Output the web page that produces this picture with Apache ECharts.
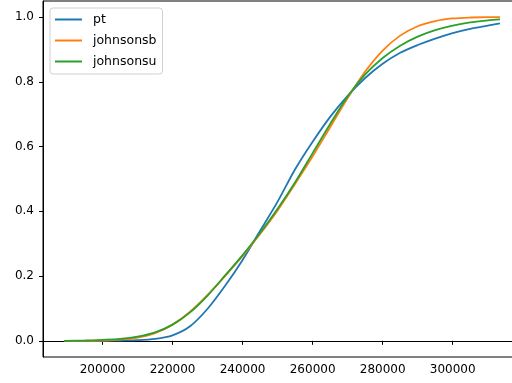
<!DOCTYPE html>
<html>
<head>
<meta charset="utf-8">
<script src="https://cdn.jsdelivr.net/npm/echarts@6/dist/echarts.min.js"></script>
<style>
  html, body { margin: 0; padding: 0; background: #fff; }
  #chartBox { width: 512px; height: 383px; }
</style>
</head>
<body>
<div id="chartBox"></div>
<script>
// x positions and the three CDF curves
var xValues = [189000, 195000, 200000, 205000, 210000, 215000, 220000, 225000, 230000, 235000,
    240000, 245000, 250000, 255000, 260000, 265000, 270000, 275000, 280000, 285000,
    290000, 295000, 300000, 305000, 310000, 313500];
var ptValues = [0.000, 0.000, 0.000, 0.001, 0.002, 0.006, 0.017, 0.045, 0.099, 0.170,
    0.250, 0.340, 0.430, 0.530, 0.615, 0.692, 0.757, 0.812, 0.856, 0.890,
    0.914, 0.934, 0.951, 0.964, 0.974, 0.981];
var johnsonsbValues = [0.000, 0.000, 0.001, 0.004, 0.010, 0.024, 0.050, 0.090, 0.142, 0.200,
    0.262, 0.330, 0.403, 0.485, 0.570, 0.660, 0.750, 0.832, 0.897, 0.943,
    0.972, 0.988, 0.996, 0.999, 1.000, 1.000];
var johnsonsuValues = [0.000, 0.001, 0.003, 0.006, 0.013, 0.026, 0.050, 0.088, 0.140, 0.202,
    0.265, 0.333, 0.408, 0.490, 0.580, 0.670, 0.755, 0.823, 0.874, 0.912,
    0.940, 0.960, 0.974, 0.984, 0.990, 0.993];
var seriesNames = ['pt', 'johnsonsb', 'johnsonsu'];
var xTicks = [200000, 220000, 240000, 260000, 280000, 300000];
var yTicks = [0, 0.2, 0.4, 0.6, 0.8, 1.0];

function pairUp(xs, ys) {
    var out = [];
    for (var i = 0; i < xs.length; i++) {
        out.push([xs[i], ys[i]]);
    }
    return out;
}

function lineSeries(name, ys, color) {
    return {
        name: name,
        type: 'line',
        data: pairUp(xValues, ys),
        showSymbol: false,
        symbol: 'none',
        smooth: 0.3,
        lineStyle: { color: color, width: 1.8 },
        itemStyle: { color: color }
    };
}

var myChart = echarts.init(document.getElementById('chartBox'));

var axisFont = {
    color: '#000',
    fontSize: 12,
    fontFamily: 'DejaVu Sans'
};

var option = {
    animation: false,
    grid: {
        left: 43,
        top: 1,
        width: 478,
        height: 356,
        show: true,
        borderColor: '#000',
        borderWidth: 1,
        containLabel: false,
        outerBoundsMode: 'none'
    },
    legend: {
        data: seriesNames,
        orient: 'vertical',
        left: 50,
        top: 8,
        icon: 'rect',
        itemWidth: 27,
        itemHeight: 2,
        itemGap: 8,
        padding: [5, 6, 6, 5],
        borderColor: '#d0d0d0',
        borderWidth: 1,
        borderRadius: 3,
        backgroundColor: '#fff',
        textStyle: {
            color: '#000',
            fontSize: 12.5,
            fontFamily: 'DejaVu Sans',
            padding: [0, 0, 0, 6]
        }
    },
    xAxis: {
        type: 'value',
        min: 183000,
        max: 319500,
        axisLine: { show: true, lineStyle: { color: '#000', width: 1 } },
        axisTick: {
            show: true,
            length: 4,
            lineStyle: { color: '#000' },
            customValues: xTicks
        },
        axisLabel: Object.assign({
            margin: 7,
            customValues: xTicks,
            formatter: function (v) { return String(v); }
        }, axisFont),
        splitLine: { show: false }
    },
    yAxis: {
        type: 'value',
        min: -0.05,
        max: 1.05,
        axisLine: { show: true, lineStyle: { color: '#000', width: 1 } },
        axisTick: {
            show: true,
            length: 4,
            lineStyle: { color: '#000' },
            customValues: yTicks
        },
        axisLabel: Object.assign({
            margin: 9,
            customValues: yTicks,
            formatter: function (v) { return v.toFixed(1); }
        }, axisFont),
        splitLine: { show: false }
    },
    series: [
        lineSeries(seriesNames[0], ptValues, '#1f77b4'),
        lineSeries(seriesNames[1], johnsonsbValues, '#ff7f0e'),
        lineSeries(seriesNames[2], johnsonsuValues, '#2ca02c')
    ]
};

myChart.setOption(option);
</script>
</body>
</html>
